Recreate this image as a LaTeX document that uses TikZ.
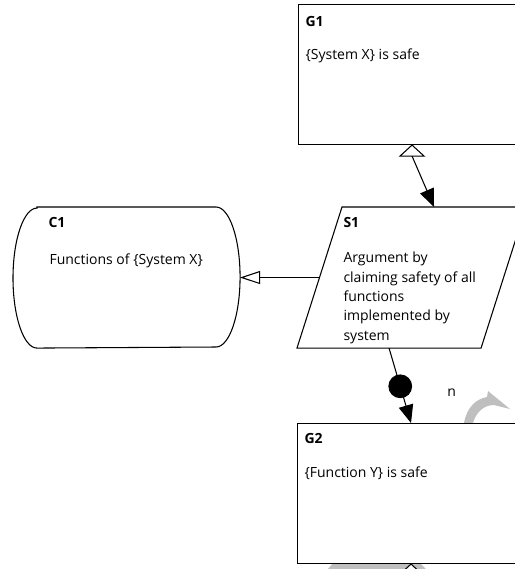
\documentclass[tikz,border=0pt]{standalone}
\usepackage{fontspec}
\setmainfont{Open Sans}
\usetikzlibrary{arrows.meta,calc,positioning}

\tikzset{
  goalbox/.style={draw,fill=white,rectangle,inner sep=0pt,
    minimum width=170.25pt,minimum height=105pt},
  ctxbox/.style={rectangle,inner sep=0pt,minimum width=169.5pt,minimum height=105pt},
  stratbox/.style={rectangle,inner sep=0pt,minimum width=171pt,minimum height=105pt},
  title/.style={anchor=base west,inner sep=0pt,
    font=\fontsize{10.5}{14.6}\selectfont\bfseries},
  body/.style={anchor=north west,align=left,inner sep=0pt},
  dot/.style={circle,fill=black,draw=black,inner sep=0pt,minimum size=17pt},
  solved/.style={-{Triangle[length=13.5pt,width=11pt]}},
  incontext/.style={-{Triangle[open,length=15pt,width=9.75pt]}},
  opentri/.style={fill=white},
  shade/.style={fill=gray!50,draw=none}
}

\begin{document}
\begin{tikzpicture}[x=0.75pt,y=-0.75pt,line width=0.8pt,
    every node/.style={font=\fontsize{10.5}{14.6}\selectfont}]
  \useasboundingbox (0,0) rectangle (515,569);
  \clip (0,0) rectangle (515,569);

  % grey marks behind the lower goal
  \path[shade] (464,423) .. controls (467,407) and (476,399) .. (487,397)
    -- (488,391) -- (510,409) -- (494,405)
    .. controls (483,405) and (476,413) .. (473,423) -- cycle;
  \path[shade] (333,563) -- (420,563) -- (426,569) -- (328,569) -- cycle;

  % elements
  \node[goalbox,anchor=north west] (G1) at (298,4) {};
  \node[stratbox,anchor=north west] (S1) at (297,207) {};
  \node[ctxbox,anchor=north west] (C1) at (13,207) {};
  \node[goalbox,anchor=north west] (G2) at (297,423) {};
  \coordinate (below) at (410.5,640);

  % strategy outline
  \draw[fill=white] (S1.south west) -- ($(S1.south east)+(-45,0)$)
    -- (S1.north east) -- ($(S1.north west)+(45,0)$) -- cycle;
  \coordinate (S1top) at ($(S1.north)+(22.5,0)$);
  \coordinate (S1bot) at ($(S1.south)+(-22.5,0)$);
  \coordinate (S1left) at ($(S1.west)+(22.5,0)$);

  % context outline
  \draw ($(C1.north west)+(24,0)$) -- ($(C1.north east)+(-24,0)$)
    arc[start angle=90,end angle=-90,x radius=18pt,y radius=52.5pt]
    -- ($(C1.south west)+(24,0)$)
    arc[start angle=270,end angle=90,x radius=18pt,y radius=52.5pt] -- cycle;

  % texts
  \node[title] (G1t) at ($(G1.north west)+(7,22)$) {G1};
  \node[body] (G1b) at ($(G1.north west)+(7,41.4)$) {\strut\{System X\} is safe};
  \node[title] (S1t) at ($(S1.north west)+(46,20)$) {S1};
  \node[body] (S1b) at ($(S1.north west)+(46,41.4)$)
    {\strut Argument by\\claiming safety of all\\functions\\implemented by\\system};
  \node[title] (C1t) at ($(C1.north west)+(35,20)$) {C1};
  \node[body] (C1b) at ($(C1.north west)+(36,43.4)$) {\strut Functions of \{System X\}};
  \node[title] (G2t) at ($(G2.north west)+(7,20)$) {G2};
  \node[body] (G2b) at ($(G2.north west)+(7,40.4)$) {\strut\{Function Y\} is safe};

  % connectors
  \draw[opentri] (G1.south) -- ++(-12,11) -- ++(24,0) -- cycle;
  \draw[solved] (G1.south) ++(0,11) -- (S1top);
  \draw[incontext] (S1left) -- (C1.east);
  \draw[solved] (S1bot) -- node[dot,pos=0.51] (many) {} (G2.north);
  \node[right=26pt of many,yshift=-4.5pt,inner sep=0pt] (mult) {n};
  \draw (below) -- ($(G2.south)+(0,11)$);
  \draw[opentri] (G2.south) -- ++(-12,11) -- ++(24,0) -- cycle;
\end{tikzpicture}
\end{document}
